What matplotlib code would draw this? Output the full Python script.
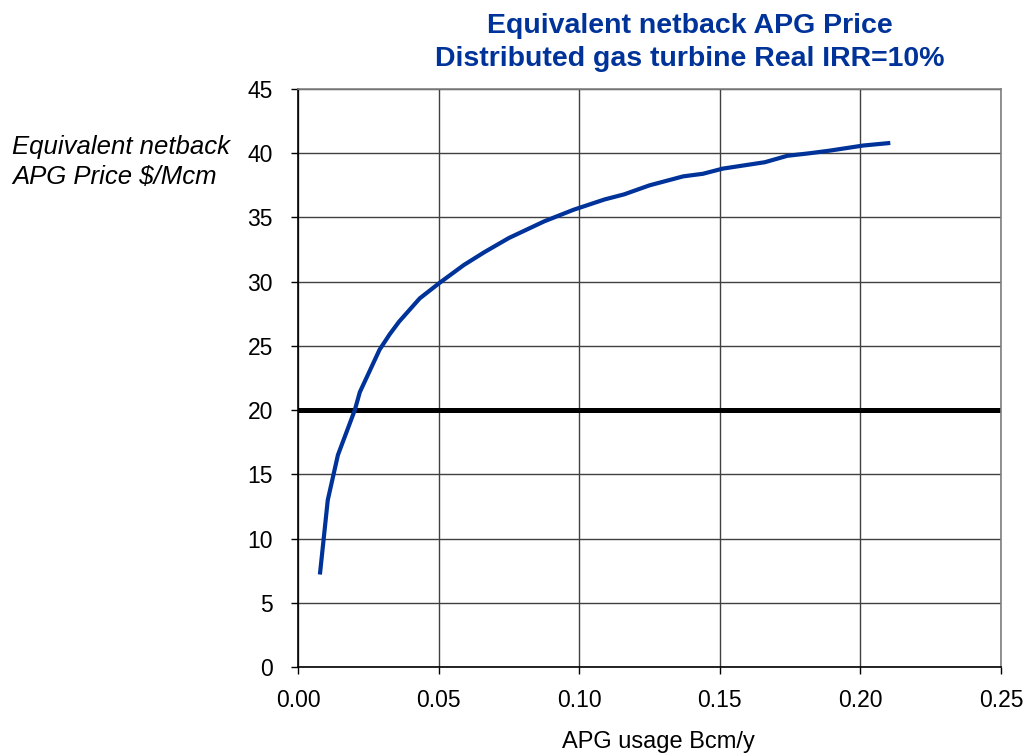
import numpy as np
import matplotlib.pyplot as plt

plt.rcParams['font.family'] = ['Liberation Sans', 'DejaVu Sans']

# APG usage (Bcm/y) and equivalent netback price ($/Mcm)
usage = [0.0078, 0.0106, 0.0142, 0.0202, 0.022, 0.029, 0.0326, 0.036, 0.0433,
         0.0503, 0.059, 0.0663, 0.075, 0.0876, 0.098, 0.109, 0.116, 0.125,
         0.137, 0.144, 0.151, 0.166, 0.174, 0.182, 0.189, 0.201, 0.2106]
price = [7.2, 13.0, 16.5, 20.0, 21.4, 24.7, 25.9, 26.9, 28.7,
         29.9, 31.3, 32.3, 33.4, 34.7, 35.6, 36.4, 36.8, 37.5,
         38.2, 38.4, 38.8, 39.3, 39.8, 40.0, 40.2, 40.6, 40.8]
reference_price = 20

xticks = [0.00, 0.05, 0.10, 0.15, 0.20, 0.25]
yticks = [0, 5, 10, 15, 20, 25, 30, 35, 40, 45]

blue = '#003399'

fig = plt.figure(figsize=(10.31, 7.53), dpi=100)
ax = fig.add_axes([0.289, 0.1142, 0.682, 0.7676])

ax.set_xlim(0, 0.25)
ax.set_ylim(0, 45)
ax.set_xticks(xticks)
ax.set_yticks(yticks)
ax.set_xticklabels(['%.2f' % v for v in xticks])
ax.grid(True, color='#404040', linewidth=1.0)
ax.set_axisbelow(True)

ax.axhline(reference_price, color='black', linewidth=3.6)
ax.plot(usage, price, color=blue, linewidth=3.0, solid_capstyle='butt')

for side in ['top', 'right']:
    ax.spines[side].set_color('#808080')
    ax.spines[side].set_linewidth(1.2)
for side in ['left', 'bottom']:
    ax.spines[side].set_color('black')
    ax.spines[side].set_linewidth(1.2)
ax.tick_params(axis='both', direction='out', length=5, width=1, labelsize=16.5,
               colors='black')
ax.tick_params(axis='x', pad=11)
ax.tick_params(axis='y', pad=13)

fig.text(0.639, 0.0066, 'APG usage Bcm/y', fontsize=17, ha='center', va='baseline')
fig.text(0.0116, 0.785, 'Equivalent netback\nAPG Price $/Mcm', fontsize=18.5,
         style='italic', ha='left', va='center', linespacing=1.3)
fig.text(0.669, 0.944, 'Equivalent netback APG Price\nDistributed gas turbine Real IRR=10%',
         fontsize=20.5, fontweight='bold', color=blue, ha='center', va='center',
         linespacing=1.35)

fig.savefig('out.png', dpi=100)
